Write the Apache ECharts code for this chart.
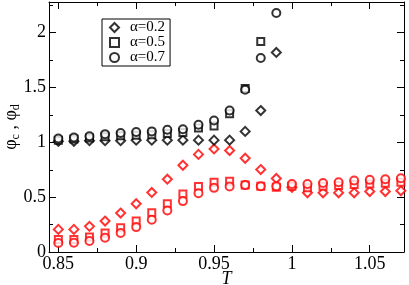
<!DOCTYPE html>
<html>
<head>
<meta charset="utf-8">
<script src="https://cdn.jsdelivr.net/npm/echarts@6/dist/echarts.min.js"></script>
<style>html,body{margin:0;padding:0;background:#fff}#c{width:409px;height:285px}</style>
</head>
<body>
<div id="c"></div>
<script>
const T = [0.85,0.86,0.87,0.88,0.89,0.90,0.91,0.92,0.93,0.94,0.95,0.96,0.97,0.98,0.99,1.00,1.01,1.02,1.03,1.04,1.05,1.06,1.07];
const blackDiamond = [1.01,1.01,1.015,1.015,1.015,1.02,1.02,1.02,1.02,1.02,1.02,1.02,1.10,1.29,1.82];
const blackSquare  = [1.02,1.03,1.04,1.05,1.06,1.065,1.07,1.08,1.09,1.13,1.15,1.26,1.49,1.92];
const blackCircle  = [1.035,1.045,1.055,1.075,1.085,1.095,1.10,1.115,1.12,1.16,1.20,1.29,1.48,1.77,2.18];
const redDiamond = [0.206,0.206,0.234,0.282,0.355,0.44,0.543,0.664,0.791,0.89,0.94,0.925,0.855,0.752,0.67,0.59,0.54,0.54,0.54,0.54,0.552,0.552,0.558];
const redSquare  = [0.115,0.115,0.136,0.173,0.222,0.282,0.358,0.44,0.53,0.597,0.636,0.645,0.612,0.60,0.59,0.60,0.585,0.60,0.606,0.615,0.62,0.627,0.636];
const redCircle  = [0.082,0.085,0.10,0.13,0.173,0.227,0.294,0.379,0.464,0.536,0.585,0.597,0.61,0.60,0.60,0.62,0.62,0.63,0.636,0.652,0.658,0.664,0.673];
const legendNames = ['α=0.2','α=0.5','α=0.7'];

const zip = vals => vals.map((v, i) => [T[i], v]);
const FONT = 'Liberation Serif';
const ser = (name, vals, sym, size, color) => ({
  type: 'scatter', name: name, data: zip(vals), symbol: sym, symbolSize: size,
  itemStyle: { color: color, borderColor: color, borderWidth: 1.9 },
  emphasis: { disabled: true }, animation: false
});

const axisCommon = {
  type: 'value',
  axisLine: { show: true, onZero: false, lineStyle: { color: '#000', width: 1 } },
  axisTick: { show: true, inside: true, length: 7, lineStyle: { color: '#000', width: 1 } },
  minorTick: { show: true, splitNumber: 2, length: 4, lineStyle: { color: '#000', width: 1 } },
  splitLine: { show: false }, minorSplitLine: { show: false }
};

const chart = echarts.init(document.getElementById('c'), null, { renderer: 'canvas' });
chart.setOption({
  animation: false,
  backgroundColor: '#fff',
  grid: { left: 49, right: 5, top: 2, bottom: 33, containLabel: false, outerBoundsMode: 'none' },
  legend: {
    data: legendNames.map((n, i) => ({ name: n, icon: ['emptyDiamond','emptyRect','emptyCircle'][i] })),
    orient: 'vertical', left: 102, top: 19,
    itemWidth: 9, itemHeight: 9, itemGap: 0,
    borderColor: '#000', borderWidth: 1, borderRadius: 0,
    padding: [1, 5, 1, 7],
    textStyle: { fontFamily: FONT, fontSize: 15, color: '#000', lineHeight: 14, padding: [0, 0, 0, 6] },
    selectedMode: false
  },
  xAxis: [
    Object.assign({}, axisCommon, {
      position: 'bottom', min: 0.844, max: 1.072, minInterval: 0.05, maxInterval: 0.05,
      axisLabel: { fontFamily: FONT, fontSize: 18, color: '#000', margin: 3, showMinLabel: false, showMaxLabel: false },
      name: 'T', nameLocation: 'middle', nameGap: 18, nameMoveOverlap: false,
      nameTextStyle: { fontFamily: FONT, fontSize: 18, fontStyle: 'italic', color: '#000' }
    }),
    Object.assign({}, axisCommon, {
      position: 'top', min: 0.844, max: 1.072, minInterval: 0.05, maxInterval: 0.05,
      axisLabel: { show: false }
    })
  ],
  yAxis: [
    Object.assign({}, axisCommon, {
      position: 'left', min: 0, max: 2.28, minInterval: 0.5, maxInterval: 0.5,
      axisLabel: { fontFamily: FONT, fontSize: 18, color: '#000', margin: 3, showMaxLabel: false },
      name: '{a|φ}{s|c}{a| , φ}{s|d}', nameLocation: 'middle', nameRotate: 90, nameGap: 27, nameMoveOverlap: false,
      nameTextStyle: {
        color: '#000',
        rich: {
          a: { fontFamily: FONT, fontSize: 18, color: '#000', lineHeight: 22, verticalAlign: 'middle' },
          s: { fontFamily: FONT, fontSize: 12, color: '#000', lineHeight: 11, verticalAlign: 'bottom' }
        }
      }
    }),
    Object.assign({}, axisCommon, {
      position: 'right', min: 0, max: 2.28, minInterval: 0.5, maxInterval: 0.5,
      axisLabel: { show: false }
    })
  ],
  series: [
    ser('redD', redDiamond, 'emptyDiamond', 9, '#ff0000'),
    ser('redS', redSquare, 'emptyRect', 7, '#ff0000'),
    ser('redC', redCircle, 'emptyCircle', 8, '#ff0000'),
    ser(legendNames[0], blackDiamond, 'emptyDiamond', 9, '#000'),
    ser(legendNames[1], blackSquare, 'emptyRect', 7, '#000'),
    ser(legendNames[2], blackCircle, 'emptyCircle', 8, '#000')
  ]
});
</script>
</body>
</html>
